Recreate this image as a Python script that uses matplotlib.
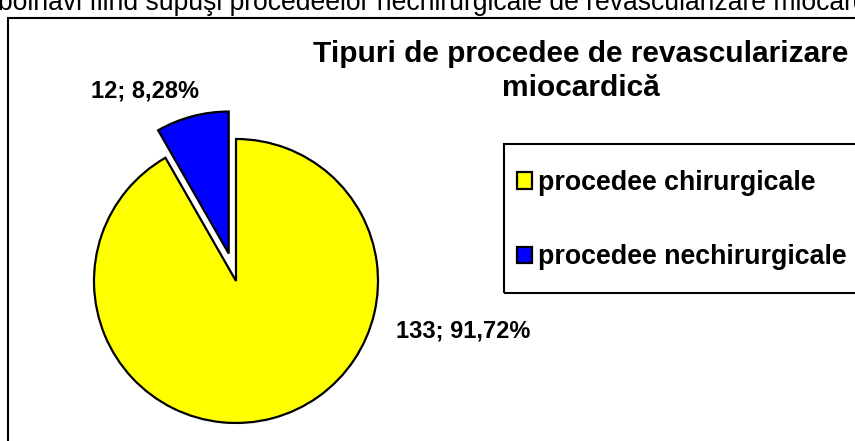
import matplotlib
matplotlib.use("Agg")
import matplotlib.pyplot as plt
from matplotlib.patches import Rectangle

plt.rcParams['font.family'] = ['Liberation Sans', 'DejaVu Sans']

categories = ['procedee chirurgicale', 'procedee nechirurgicale']
counts = [133, 12]
colors = ['#FFFF00', '#0000FF']
explode = [0, 0.2]
title = 'Tipuri de procedee de revascularizare\nmiocardică'
top_line = 'bolnavi fiind supuşi procedeelor nechirurgicale de revascularizare miocardică.'

W, H = 855, 441
fig = plt.figure(figsize=(W / 100, H / 100), dpi=100)

# cut-off line of body text above the chart
fig.text(-2 / W, 1 - 10 / H, top_line, fontsize=19.1, ha='left', va='baseline')

# chart frame (runs past right and bottom edge)
fig.patches.append(Rectangle((8 / W, -0.2), 1.5, 1.2 - 18 / H, transform=fig.transFigure,
                             fill=False, edgecolor='black', linewidth=1.5))

# pie: centre (236, 281) px, radius 142 px
cx, cy, r, half = 236, 281, 142, 200
ax = fig.add_axes([(cx - half) / W, (H - cy - half) / H, 2 * half / W, 2 * half / H])
wedges, _ = ax.pie(counts, colors=colors, explode=explode, startangle=90, counterclock=False,
                   wedgeprops={'edgecolor': 'black', 'linewidth': 1.6})
lim = half / r
ax.set_xlim(-lim, lim)
ax.set_ylim(-lim, lim)
ax.axis('off')

total = sum(counts)
labels = [f"{v}; {v / total * 100:.2f}%".replace('.', ',') for v in counts]
label_pos = [(1.6, -0.35), (-0.64, 1.34)]
for txt, (x, y) in zip(labels, label_pos):
    ax.text(x, y, txt, ha='center', va='center', fontsize=17, fontweight='bold')

fig.text(581 / W, 1 - 71 / H, title, ha='center', va='center', fontsize=21.5,
         fontweight='bold', linespacing=1.25)

# legend box
fig.patches.append(Rectangle((504 / W, 1 - 293 / H), 0.6, 149 / H, transform=fig.transFigure,
                             fill=False, edgecolor='black', linewidth=1.5))
fig.legend(wedges, categories, loc='upper left', bbox_to_anchor=(517 / W, 1 - 170 / H),
           frameon=False, prop={'weight': 'bold', 'size': 19.3}, handlelength=0.55,
           handleheight=0.55, handletextpad=0.25, labelspacing=1.8, borderpad=0,
           borderaxespad=0)

fig.savefig('out.png', dpi=100)
